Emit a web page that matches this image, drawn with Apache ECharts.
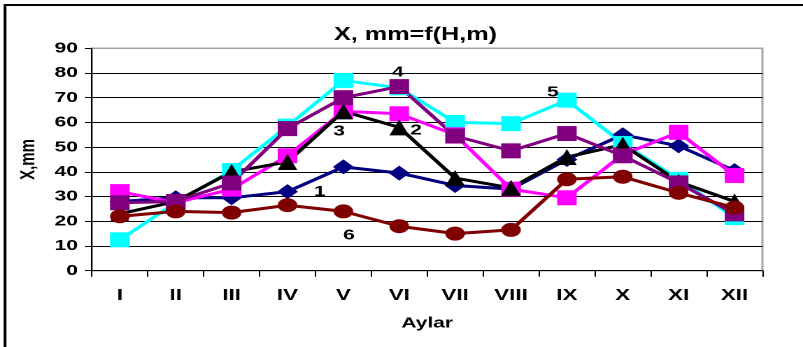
<!DOCTYPE html>
<html>
<head>
<meta charset="utf-8">
<script src="https://cdn.jsdelivr.net/npm/echarts@6/dist/echarts.min.js"></script>
<style>
html,body{margin:0;padding:0;background:#fff;overflow:hidden;}
#c{width:574px;height:347px;transform:scaleX(1.399);transform-origin:0 0;}
</style>
</head>
<body>
<div id="c"></div>
<script>
// Data
var months = ['I','II','III','IV','V','VI','VII','VIII','IX','X','XI','XII'];
var s1 = [28, 29.5, 29.5, 32, 42, 39.5, 34.5, 33, 45, 55, 50.5, 40.5];
var s2 = [23, 28, 40, 44, 64.5, 58, 37.5, 33.5, 46, 51, 36, 28];
var s3 = [32, 27.5, 33, 46.5, 64.5, 63.5, 55, 33, 29.5, 47, 56, 38.5];
var s4 = [27.5, 28, 35.5, 57.5, 70, 74.5, 54.5, 48.5, 55.5, 46.5, 35.5, 23];
var s5 = [12.5, 27.5, 40.5, 58.5, 77, 74, 60, 59.5, 69, 51.5, 37, 21.5];
var s6 = [22, 24, 23.5, 26.5, 24, 18, 15, 16.5, 37, 38, 31.5, 25.5];
var seriesNames = ['1','2','3','4','5','6'];
var titleText = 'X, mm=f(H,m)';
var xName = 'Aylar';
var yName = 'X,mm';

var FONT = 'Liberation Sans, Arial, sans-serif';

function withLabel(arr, idx, text, offset) {
  return arr.map(function (v, i) {
    if (i !== idx) return v;
    return {
      value: v,
      label: {
        show: true, formatter: text, position: 'inside', offset: offset,
        color: '#000', fontWeight: 'bold', fontSize: 15, fontFamily: FONT
      }
    };
  });
}

function mk(name, data, color, symbol, size) {
  return {
    name: name, type: 'line', data: data,
    symbol: symbol, symbolSize: size, showSymbol: true,
    itemStyle: { color: color, borderWidth: 0 },
    lineStyle: { color: color, width: 3 },
    emphasis: { disabled: true },
    animation: false,
    label: { show: false }
  };
}

var chart = echarts.init(document.getElementById('c'), null, { renderer: 'canvas', devicePixelRatio: 2 });

var splitColors = ['#000','#000','#000','#000','#000','#000','#000','#000','#000','#a0a0a0'];

var option = {
  backgroundColor: '#fff',
  animation: false,
  title: {
    text: titleText, left: 292, top: 21, textAlign: 'center',
    textStyle: { fontFamily: FONT, fontWeight: 'bold', fontSize: 18, color: '#000' }
  },
  graphic: [{
    type: 'rect', silent: true,
    shape: { x: 3.6, y: 5, width: 1000, height: 1000 },
    style: { fill: 'none', stroke: '#000', lineWidth: 2 }
  }],
  grid: {
    left: 65.7, right: 29, top: 48.3, bottom: 76.3,
    show: true, borderColor: '#a8a8a8', borderWidth: 1.5, backgroundColor: 'transparent'
  },
  xAxis: {
    type: 'category', data: months, boundaryGap: true,
    name: xName, nameLocation: 'middle', nameGap: 45,
    nameTextStyle: { fontFamily: FONT, fontWeight: 'bold', fontSize: 15, color: '#000' },
    axisLine: { lineStyle: { color: '#000', width: 1 } },
    axisTick: { show: true, length: 6, lineStyle: { color: '#000' } },
    axisLabel: { fontFamily: FONT, fontWeight: 'bold', fontSize: 16, color: '#000', margin: 17 },
    splitLine: { show: false }
  },
  yAxis: {
    type: 'value', min: 0, max: 90, interval: 10,
    name: yName, nameLocation: 'middle', nameGap: 38, nameRotate: 90,
    nameTextStyle: { fontFamily: FONT, fontWeight: 'bold', fontSize: 15, color: '#000' },
    axisLine: { show: true, lineStyle: { color: '#000', width: 1 } },
    axisTick: { show: true, length: 5, lineStyle: { color: '#000' } },
    axisLabel: { fontFamily: FONT, fontWeight: 'bold', fontSize: 15, color: '#000', margin: 10 },
    splitLine: { show: true, lineStyle: { color: splitColors, width: 1 } }
  },
  series: [
    mk(seriesNames[0], withLabel(s1, 3, '1', [23, 0]), '#000080', 'diamond', [15, 15]),
    mk(seriesNames[4], withLabel(s5, 8, '5', [-10, -8]), '#00FFFF', 'rect', [14, 15]),
    mk(seriesNames[2], s3, '#FF00FF', 'rect', [14, 15]),
    mk(seriesNames[1], withLabel(withLabel(s2, 5, '2', [12, 3]), 4, '3', [-3, 20]), '#000000', 'triangle', [14, 16]),
    mk(seriesNames[3], withLabel(s4, 5, '4', [-1, -14]), '#800080', 'rect', [14, 15]),
    mk(seriesNames[5], withLabel(s6, 4, '6', [4, 24]), '#800000', 'circle', [14, 14])
  ]
};
chart.setOption(option);
</script>
</body>
</html>
